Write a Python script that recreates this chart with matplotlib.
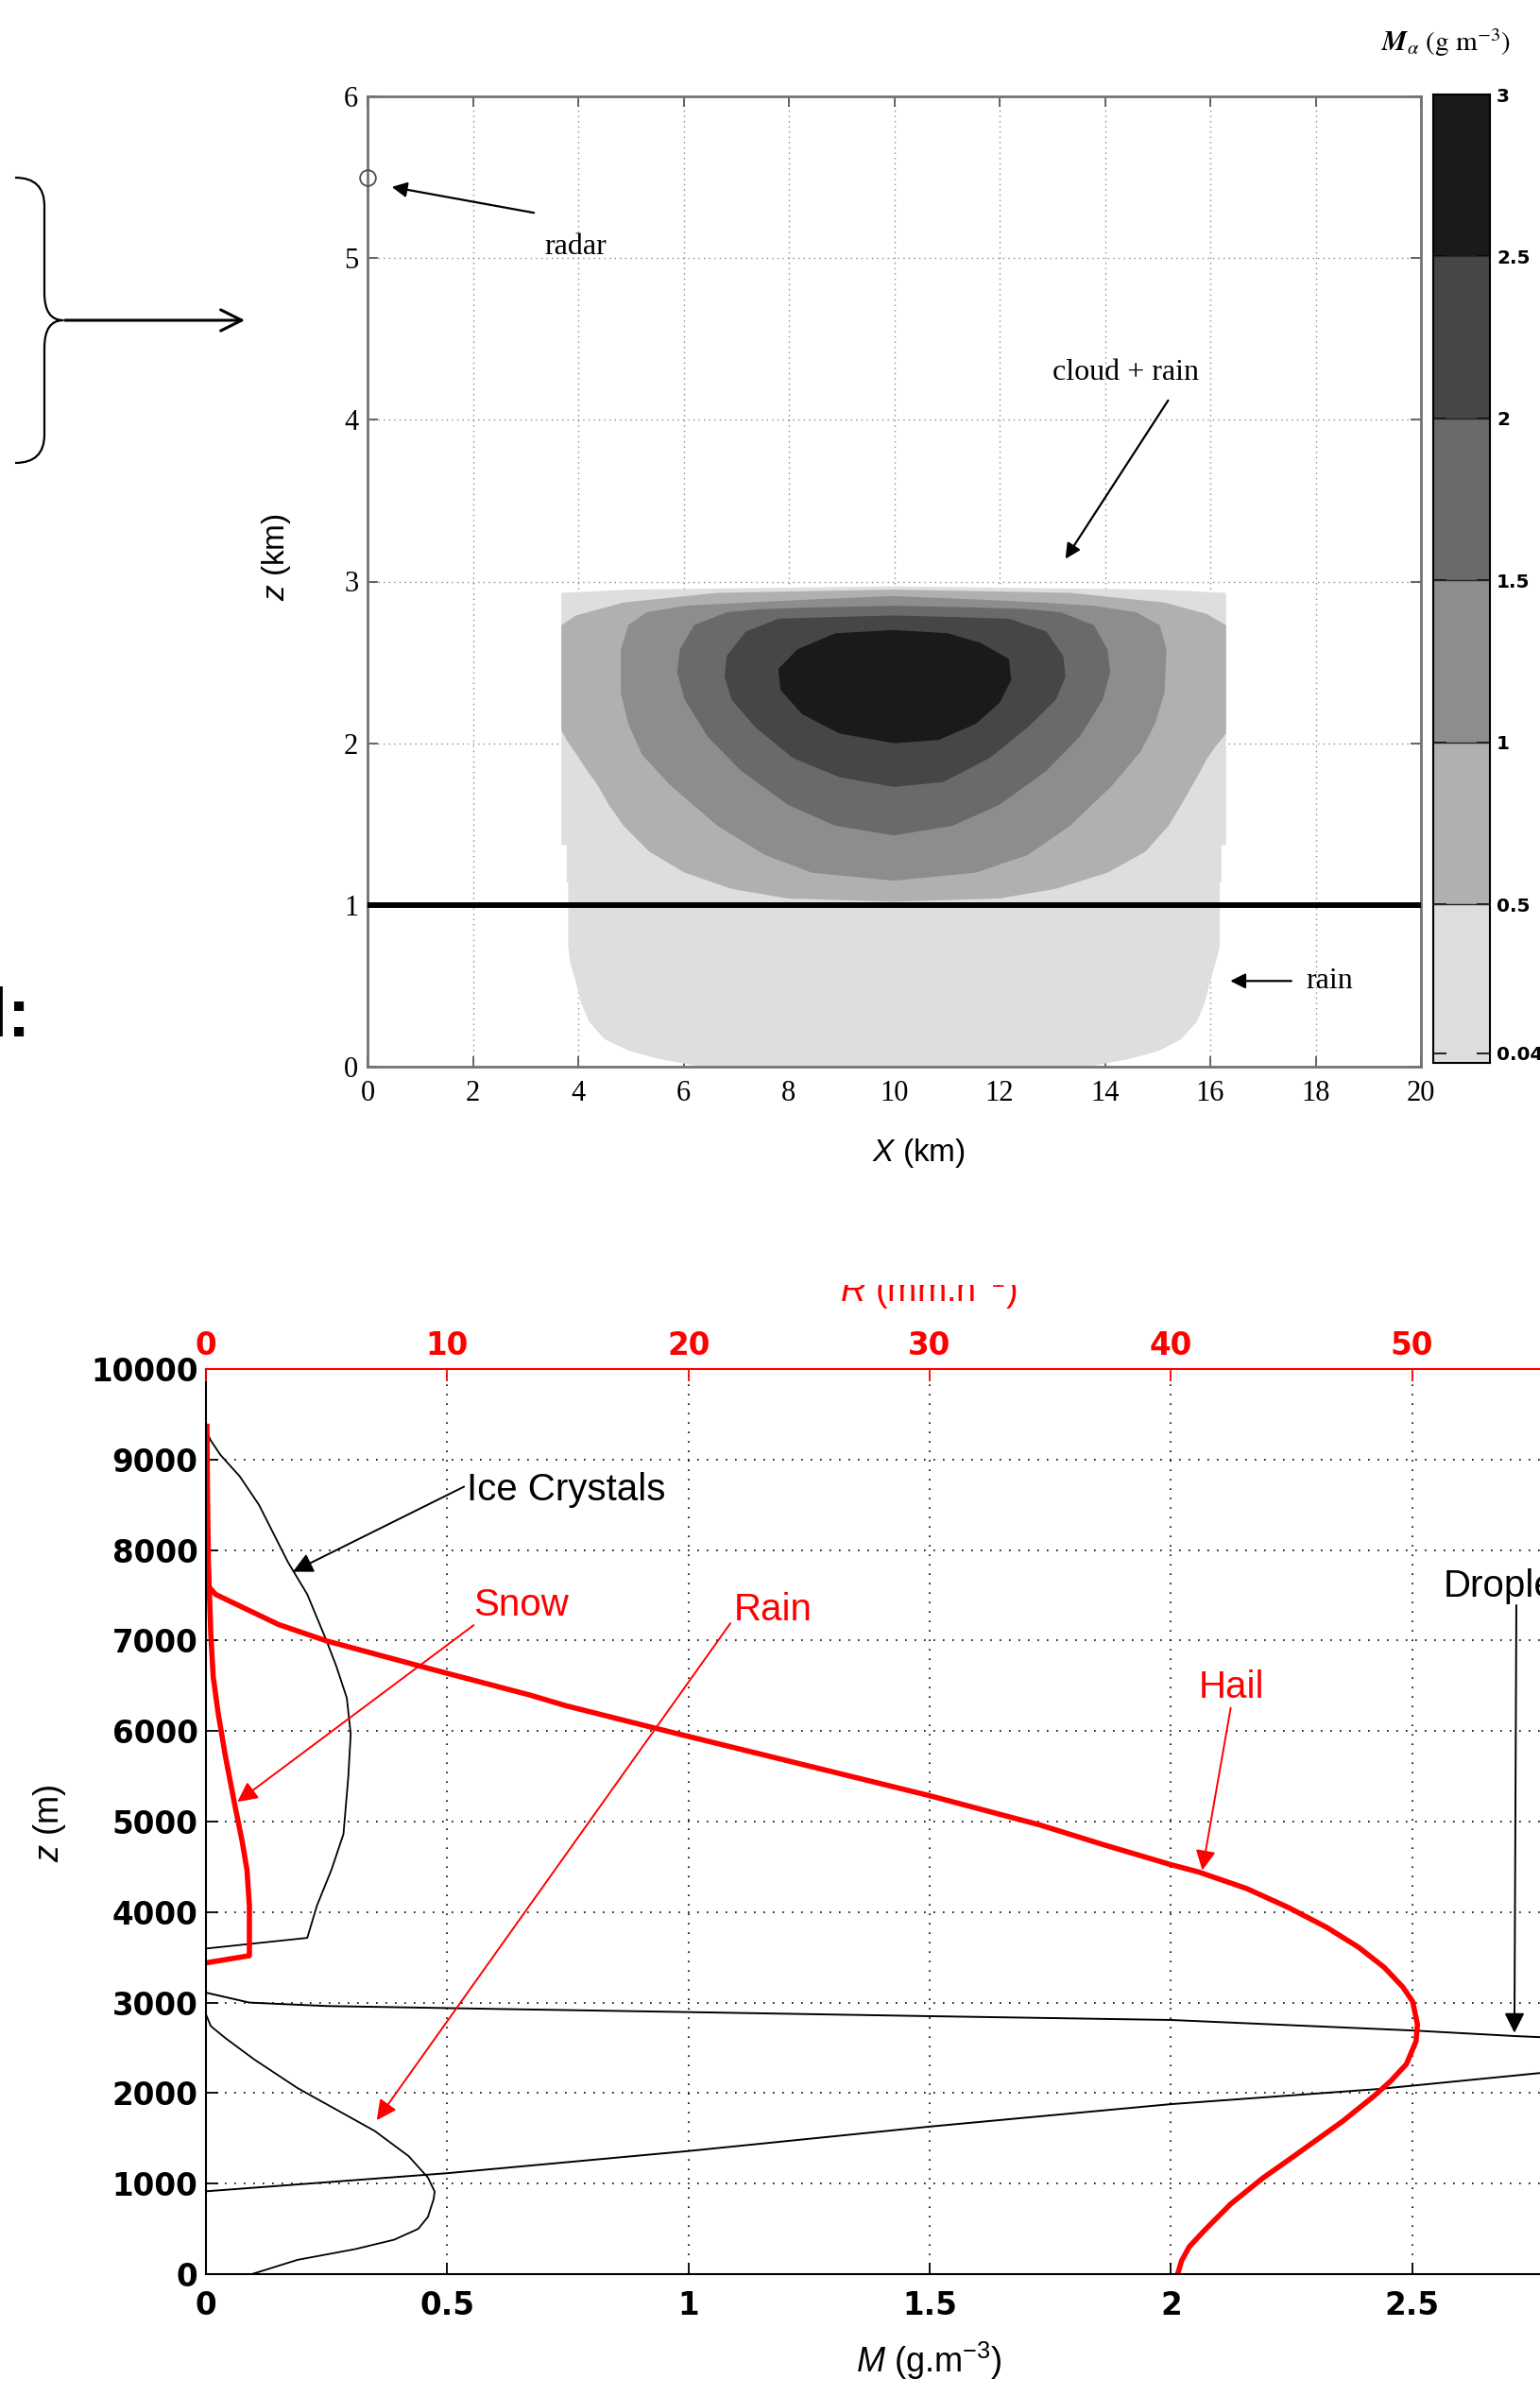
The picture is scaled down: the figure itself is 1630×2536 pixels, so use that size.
import matplotlib
matplotlib.use('Agg')
import matplotlib.pyplot as plt
from matplotlib.patches import PathPatch, FancyArrowPatch, Rectangle
from matplotlib.path import Path

W, H = 1630, 2536   # output size in pixels

plt.rcParams['font.family'] = ['DejaVu Sans']
plt.rcParams['mathtext.fontset'] = 'custom'
plt.rcParams['mathtext.rm'] = 'Liberation Sans'
plt.rcParams['mathtext.it'] = 'Liberation Sans:italic'
plt.rcParams['mathtext.bf'] = 'Liberation Sans:bold'

# ---------------- upper panel: M_alpha bands (g m^-3), outlines (x km, z km)
levels = [0.04, 0.5, 1.0, 1.5, 2.0, 2.5, 3.0]
level_labels = ['0.04', '0.5', '1', '1.5', '2', '2.5', '3']
band_colors = ['#dedede', '#b0b0b0', '#8d8d8d', '#6a6a6a', '#464646', '#1a1a1a']
cbar_min = 0.01

band_004 = [(3.68, 2.93), (5.0, 2.95), (7.5, 2.96), (10.0, 2.97), (12.5, 2.96), (15.0, 2.95),
            (16.30, 2.93), (16.30, 1.37), (16.21, 1.37), (16.21, 1.14), (16.18, 1.14),
            (16.18, 0.74), (16.10, 0.64), (16.0, 0.53), (15.90, 0.40), (15.75, 0.28),
            (15.45, 0.17), (15.04, 0.10), (14.5, 0.05), (14.0, 0.02), (13.7, 0.0),
            (6.3, 0.0), (6.0, 0.02), (5.5, 0.05), (4.95, 0.10), (4.5, 0.17), (4.2, 0.28),
            (4.05, 0.40), (3.95, 0.53), (3.85, 0.64), (3.81, 0.74), (3.81, 1.14),
            (3.78, 1.14), (3.78, 1.37), (3.68, 1.37)]
band_05 = [(3.68, 2.73), (3.96, 2.79), (4.86, 2.87), (6.64, 2.93), (10.0, 2.95), (13.34, 2.93),
           (15.13, 2.87), (15.93, 2.80), (16.30, 2.73), (16.30, 2.06), (16.10, 1.98),
           (15.93, 1.90), (15.80, 1.82), (15.66, 1.74), (15.45, 1.62), (15.21, 1.49),
           (14.77, 1.33), (14.05, 1.20), (13.07, 1.10), (12.0, 1.04), (10.0, 1.02), (7.98, 1.04),
           (6.91, 1.10), (6.02, 1.20), (5.35, 1.33), (4.86, 1.49), (4.58, 1.62), (4.37, 1.74),
           (4.15, 1.84), (3.95, 1.94), (3.80, 2.01), (3.68, 2.08)]
band_1 = [(9.99, 2.91), (11.5, 2.89), (12.8, 2.87), (13.79, 2.85), (14.59, 2.81), (15.04, 2.73),
          (15.17, 2.58), (15.13, 2.31), (14.95, 2.12), (14.68, 1.95), (14.14, 1.74),
          (13.34, 1.49), (12.54, 1.31), (11.55, 1.20), (9.99, 1.15), (8.43, 1.20), (7.54, 1.31),
          (6.64, 1.49), (5.75, 1.74), (5.21, 1.93), (4.95, 2.12), (4.81, 2.31), (4.81, 2.58),
          (4.95, 2.73), (5.30, 2.81), (6.02, 2.85), (7.2, 2.87), (8.5, 2.89)]
band_15 = [(9.99, 2.85), (11.5, 2.84), (12.5, 2.83), (13.16, 2.81), (13.79, 2.73), (14.05, 2.58),
           (14.10, 2.44), (13.96, 2.27), (13.52, 2.04), (12.89, 1.83), (12.0, 1.62),
           (11.11, 1.49), (9.99, 1.43), (8.88, 1.49), (7.98, 1.62), (7.09, 1.83), (6.46, 2.04),
           (6.02, 2.27), (5.88, 2.44), (5.93, 2.58), (6.20, 2.73), (6.82, 2.81), (7.5, 2.83),
           (8.5, 2.84)]
band_2 = [(9.99, 2.79), (11.2, 2.78), (12.18, 2.77), (12.89, 2.69), (13.21, 2.54), (13.25, 2.41),
          (13.07, 2.27), (12.54, 2.10), (11.82, 1.91), (10.93, 1.76), (9.99, 1.73), (8.96, 1.79),
          (8.07, 1.91), (7.36, 2.10), (6.91, 2.27), (6.78, 2.41), (6.82, 2.54), (7.18, 2.69),
          (7.80, 2.77), (8.8, 2.78)]
band_25 = [(9.99, 2.70), (11.02, 2.68), (11.64, 2.62), (12.18, 2.52), (12.22, 2.39), (12.0, 2.25),
           (11.55, 2.12), (10.84, 2.02), (9.99, 2.00), (8.96, 2.06), (8.25, 2.18), (7.84, 2.33),
           (7.80, 2.46), (8.16, 2.58), (8.88, 2.68)]
bands = [band_004, band_05, band_1, band_15, band_2, band_25]

radar_x, radar_z = 0.0, 5.5
line_z = 1.0

# ---------------- lower panel: profiles, M (g m^-3) against z (m)
ice_m = [0.0, 0.21, 0.23, 0.26, 0.285, 0.295, 0.30, 0.292, 0.27, 0.25, 0.21, 0.17, 0.11, 0.07,
         0.03, 0.01, 0.0]
ice_z = [3597, 3715, 4071, 4466, 4862, 5494, 5968, 6364, 6719, 6996, 7510, 7866, 8498, 8814,
         9051, 9210, 9328]

snow_m = [0.0, 0.09, 0.09, 0.085, 0.075, 0.06, 0.04, 0.025, 0.015, 0.01, 0.005, 0.003, 0.002]
snow_z = [3439, 3518, 4071, 4466, 4783, 5178, 5731, 6206, 6601, 7075, 7866, 8656, 9367]

hail_m = [0.0, 0.02, 0.15, 0.25, 0.47, 0.67, 0.746, 0.934, 1.0, 1.197, 1.5, 1.727, 1.86, 2.0,
          2.058, 2.157, 2.243, 2.323, 2.389, 2.442, 2.481, 2.501, 2.511, 2.508, 2.488, 2.455,
          2.422, 2.356, 2.257, 2.19, 2.124, 2.071, 2.038, 2.022, 2.015]
hail_z = [7628, 7510, 7178, 6996, 6680, 6400, 6280, 6028, 5941, 5683, 5286, 4965, 4745, 4524,
          4442, 4260, 4052, 3831, 3611, 3390, 3170, 3012, 2760, 2571, 2319, 2130, 1972, 1689,
          1311, 1059, 775, 491, 302, 145, 19]

rain_m = [0.0, 0.01, 0.04, 0.10, 0.19, 0.27, 0.35, 0.42, 0.46, 0.474, 0.472, 0.46, 0.44, 0.39,
          0.31, 0.19, 0.095]
rain_z = [2870, 2740, 2609, 2372, 2055, 1818, 1581, 1304, 1067, 912, 830, 632, 500, 380, 277,
          158, 0]

drop_rise_m = [0.0, 0.5, 1.0, 1.5, 2.0, 2.43, 2.8]
drop_rise_z = [915, 1115, 1360, 1630, 1878, 2045, 2240]
drop_fall_m = [0.0, 0.09, 0.25, 0.6, 1.0, 1.5, 2.0, 2.5, 2.714, 2.8]
drop_fall_z = [3110, 3000, 2962, 2930, 2895, 2850, 2808, 2692, 2630, 2610]

# ticks that fall inside the visible part of the (cropped) lower panel
m_ticks = [0, 0.5, 1, 1.5, 2, 2.5]
m_tick_labels = ['0', '0.5', '1', '1.5', '2', '2.5']
r_ticks = [0, 10, 20, 30, 40, 50]
z_ticks = list(range(0, 10001, 1000))


def fx(px):
    return px / W


def fy(py):
    return 1 - py / H


fig = plt.figure(figsize=(W / 100, H / 100), dpi=100)
serif = 'Liberation Serif'
sans = 'Liberation Sans'

# ================= upper panel
ax1 = fig.add_axes([fx(389), fy(1129), (1504 - 389) / W, (1129 - 102) / H])
ax1.set_xlim(0, 20)
ax1.set_ylim(0, 6)
ax1.set_axisbelow(True)
ax1.grid(True, color='0.55', lw=1.0, ls=(0, (1, 3)))
for band, col in zip(bands, band_colors):
    bx, bz = zip(*band)
    ax1.fill(bx, bz, color=col, lw=0, zorder=1)
ax1.axhline(line_z, color='k', lw=4.3, zorder=3)
ax1.plot(radar_x, radar_z, 'o', mfc='none', mec='0.3', ms=12, mew=1.3, clip_on=False, zorder=4)

arr = dict(arrowstyle='-|>', color='k', lw=1.6, mutation_scale=24, shrinkA=0, shrinkB=0)
ax1.annotate('', xy=(0.46, 5.44), xytext=(3.16, 5.28), arrowprops=arr)
ax1.text(3.95, 5.07, 'radar', fontfamily=serif, fontsize=23, ha='center', va='center')
ax1.annotate('', xy=(13.25, 3.14), xytext=(15.2, 4.12), arrowprops=arr)
ax1.text(14.4, 4.29, 'cloud + rain', fontfamily=serif, fontsize=23, ha='center', va='center')
ax1.annotate('', xy=(16.38, 0.53), xytext=(17.54, 0.53), arrowprops=arr)
ax1.text(18.26, 0.53, 'rain', fontfamily=serif, fontsize=23, ha='center', va='center')

ax1.set_xticks(range(0, 21, 2))
ax1.set_yticks(range(0, 7))
ax1.tick_params(direction='in', top=True, right=True, length=8, width=1.2, color='0.3',
                labelsize=22)
ax1.tick_params(axis='x', pad=10)
ax1.tick_params(axis='y', pad=7)
for lab in ax1.get_xticklabels() + ax1.get_yticklabels():
    lab.set_fontfamily(serif)
for sp in ax1.spines.values():
    sp.set_color('0.45')
    sp.set_linewidth(2)

fig.text(fx(292), fy(590), r'$z$ (km)', rotation=90, fontsize=24, fontfamily=sans,
         ha='center', va='center')
fig.text(fx(972), fy(1221), r'$X$ (km)', fontsize=24, fontfamily=sans, ha='center', va='center')

# colour bar
cax = fig.add_axes([fx(1517), fy(1125), 60 / W, (1125 - 100) / H])
bounds = [cbar_min] + levels[1:]
for lo, hi, col in zip(bounds[:-1], bounds[1:], band_colors):
    cax.axhspan(lo, hi, color=col, lw=0)
for lv in levels[1:-1]:
    cax.axhline(lv, color='0.15', lw=1.0)
cax.set_xlim(0, 1)
cax.set_ylim(cbar_min, levels[-1])
cax.set_xticks([])
cax.set_yticks(levels)
cax.set_yticklabels(level_labels)
cax.tick_params(axis='y', direction='in', left=True, right=True, labelleft=False,
                labelright=True, length=10, width=1.2, labelsize=14.5, pad=5)
for lab in cax.get_yticklabels():
    lab.set_fontweight('bold')
for sp in cax.spines.values():
    sp.set_linewidth(1.5)
fig.text(fx(1530), fy(45), r'$\mathbfit{M}_{\alpha}\ \mathrm{(g\ m^{-3})}$', math_fontfamily='stix',
         fontsize=21, ha='center', va='center')

# brace with arrow and the cut-off word on the left
brace = Path([(fx(16), fy(188)), (fx(47), fy(188)), (fx(47), fy(218)),
              (fx(47), fy(310)), (fx(47), fy(339)), (fx(67), fy(339)),
              (fx(47), fy(339)), (fx(47), fy(368)), (fx(47), fy(460)),
              (fx(47), fy(490)), (fx(16), fy(490))],
             [Path.MOVETO, Path.CURVE3, Path.CURVE3, Path.LINETO, Path.CURVE3, Path.CURVE3,
              Path.CURVE3, Path.CURVE3, Path.LINETO, Path.CURVE3, Path.CURVE3])
fig.add_artist(PathPatch(brace, transform=fig.transFigure, fc='none', ec='k', lw=1.6))
fig.add_artist(FancyArrowPatch((fx(66), fy(339)), (fx(262), fy(339)),
                               transform=fig.transFigure, arrowstyle='->',
                               mutation_scale=40, lw=2.2, color='k'))
fig.text(fx(-12), fy(1097), 'l:', fontsize=52, fontfamily=sans, fontweight='bold',
         ha='left', va='baseline')

# ================= lower panel (axes runs on past the right edge, as in the cropped source)
ax = fig.add_axes([fx(218), fy(2407), (1750 - 218) / W, (2407 - 1449) / H])
ax.set_xlim(0, 3)
ax.set_ylim(0, 10000)
ax.grid(True, color='k', lw=1.2, ls=(0, (1, 5)))

ax.plot(drop_rise_m, drop_rise_z, color='k', lw=1.4)
ax.plot(drop_fall_m, drop_fall_z, color='k', lw=1.4)
ax.plot(rain_m, rain_z, color='k', lw=1.3)
ax.plot(ice_m, ice_z, color='k', lw=1.3)
ax.plot(snow_m, snow_z, color='red', lw=4)
ax.plot(hail_m, hail_z, color='red', lw=4)

k_arr = dict(arrowstyle='-|>', color='k', lw=1.4, mutation_scale=32, shrinkA=0, shrinkB=0)
r_arr = dict(arrowstyle='-|>', color='red', lw=1.4, mutation_scale=32, shrinkA=0, shrinkB=0)
ax.annotate('', xy=(0.18, 7760), xytext=(0.535, 8700), arrowprops=k_arr)
ax.text(0.54, 8550, 'Ice Crystals', fontsize=29, fontfamily=sans, va='baseline')
ax.annotate('', xy=(0.065, 5217), xytext=(0.555, 7170), arrowprops=r_arr)
ax.text(0.555, 7273, 'Snow', color='red', fontsize=29, fontfamily=sans, va='baseline')
ax.annotate('', xy=(0.354, 1700), xytext=(1.087, 7191), arrowprops=r_arr)
ax.text(1.095, 7224, 'Rain', color='red', fontsize=29, fontfamily=sans, va='baseline')
ax.annotate('', xy=(2.065, 4461), xytext=(2.124, 6257), arrowprops=r_arr)
ax.text(2.058, 6364, 'Hail', color='red', fontsize=29, fontfamily=sans, va='baseline')
ax.annotate('', xy=(2.712, 2665), xytext=(2.716, 7391), arrowprops=k_arr)
ax.text(2.564, 7486, 'Droplets', fontsize=29, fontfamily=sans, va='baseline')

ax.set_xticks(m_ticks)
ax.set_xticklabels(m_tick_labels)
ax.set_yticks(z_ticks)
ax.tick_params(direction='in', length=9, width=1.3, labelsize=23.5, top=False, right=False)
ax.tick_params(axis='x', pad=12)
ax.tick_params(axis='y', pad=6)
for lab in ax.get_xticklabels() + ax.get_yticklabels():
    lab.set_fontweight('bold')
ax.spines['top'].set_visible(False)
for sp in ['left', 'bottom', 'right']:
    ax.spines[sp].set_linewidth(1.5)

ax2 = ax.twiny()
ax2.set_xlim(0, 60)
ax2.set_xticks(r_ticks)
ax2.tick_params(axis='x', colors='red', direction='in', length=9, width=1.3, labelsize=23.5,
                pad=6)
for lab in ax2.get_xticklabels():
    lab.set_fontweight('bold')
for sp in ['left', 'bottom', 'right']:
    ax2.spines[sp].set_visible(False)
ax2.spines['top'].set_color('red')
ax2.spines['top'].set_linewidth(1.5)

fig.text(fx(53), fy(1930), r'$z$ (m)', rotation=90, fontsize=26, fontfamily=sans,
         ha='center', va='center')
fig.text(fx(983), fy(2511), r'$M$ (g.m$^{-3}$)', fontsize=26, fontfamily=sans,
         ha='center', va='baseline')
fig.text(fx(983), fy(1378), r'$R$ (mm.h$^{-1}$)', color='red', fontsize=27, fontfamily=sans,
         ha='center', va='baseline')
# the source image is cut just above the x-height of the R label
fig.add_artist(Rectangle((0, fy(1360)), 1, fy(1290) - fy(1360), transform=fig.transFigure,
                         fc='white', ec='none', zorder=10))

fig.savefig('out.png', dpi=100)
